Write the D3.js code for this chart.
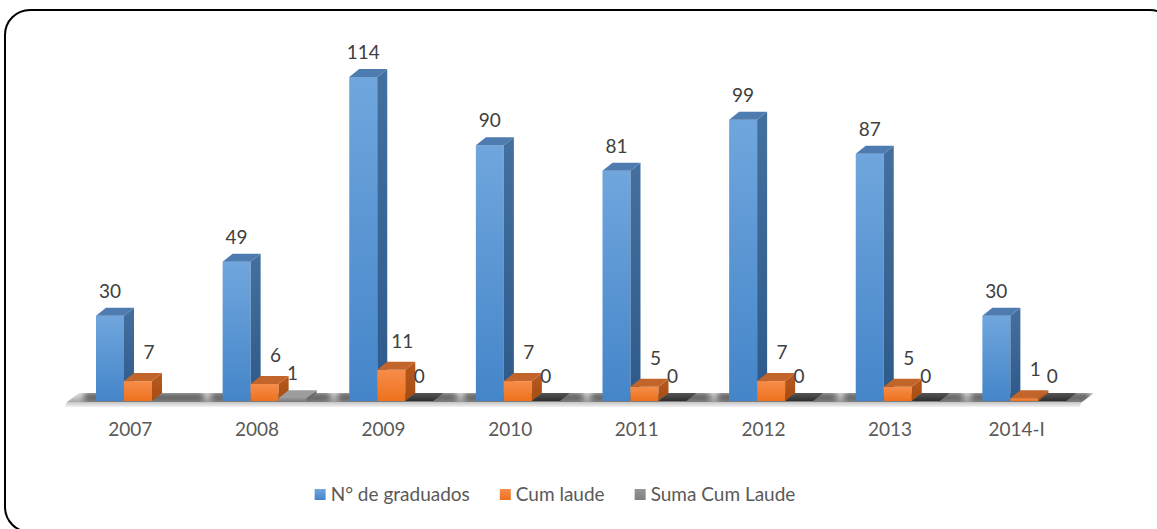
<!DOCTYPE html>
<html>
<head>
<meta charset="utf-8">
<script src="https://cdn.jsdelivr.net/npm/d3@7"></script>
<style>
  body { margin: 0; background: #fff; }
  text { font-family: Lato, "Open Sans", sans-serif; }
</style>
</head>
<body>
<div id="chart"></div>
<script>
// chart data (null = no bar drawn)
var categories = ["2007", "2008", "2009", "2010", "2011", "2012", "2013", "2014-I"];
var seriesNames = ["N° de graduados", "Cum laude", "Suma Cum Laude"];
var graduados = [30, 49, 114, 90, 81, 99, 87, 30];
var cumLaude = [7, 6, 11, 7, 5, 7, 5, 1];
var sumaCumLaude = [null, 1, 0, 0, 0, 0, 0, 0];

//svg sizes
var svgWidth = 1157;
var svgHeight = 529;

//3d depth offsets
var dx = 10;
var dy = 8;

var svg = d3.select("#chart")
  .append("svg")
  .attr("width", svgWidth)
  .attr("height", svgHeight);

var defs = svg.append("defs");

// helper for vertical gradients
function vGrad(id, top, bottom) {
  var g = defs.append("linearGradient")
    .attr("id", id)
    .attr("x1", 0).attr("y1", 0)
    .attr("x2", 0).attr("y2", 1);
  g.append("stop").attr("offset", "0%").attr("stop-color", top);
  g.append("stop").attr("offset", "100%").attr("stop-color", bottom);
}

// colors per series: front, side, top
var styles = [
  { front: "blueFront", side: "blueSide", top: "#4e7cb1" },
  { front: "orangeFront", side: "orangeSide", top: "#c2652b" },
  { front: "grayFront", side: "graySide", top: "#9d9d9d" }
];
vGrad("blueFront", "#70a6dd", "#4485c9");
vGrad("blueSide", "#44709f", "#2d5a8a");
vGrad("orangeFront", "#f68d4a", "#ee711d");
vGrad("orangeSide", "#b85a1e", "#a64c12");
vGrad("grayFront", "#959595", "#818181");
vGrad("graySide", "#737373", "#666666");
vGrad("floorTop", "#e6e6e6", "#a8a8a8");
vGrad("floorEdge", "#c4c4c4", "#f2f2f2");
vGrad("zeroSlab", "#555555", "#2e2e2e");

defs.append("filter")
  .attr("id", "blur")
  .attr("x", "-20%").attr("y", "-50%")
  .attr("width", "140%").attr("height", "200%")
  .append("feGaussianBlur")
  .attr("stdDeviation", 3);

// rounded frame
svg.append("rect")
  .attr("x", 5)
  .attr("y", 10)
  .attr("width", 1170)
  .attr("height", 522)
  .attr("rx", 25)
  .attr("fill", "none")
  .attr("stroke", "#000")
  .attr("stroke-width", 2);

// scales
var x0 = d3.scaleBand()
  .domain(categories)
  .range([67, 1080]);

var x1 = d3.scaleBand()
  .domain(seriesNames)
  .range([29, 113]);

var y = d3.scaleLinear()
  .domain([0, 114])
  .range([401, 77]);

var base = y(0);

// floor
var floorX0 = x0.range()[0];
var floorX1 = x0.range()[1] + 2;
var floorPts = [[floorX0, base + 1], [floorX1, base + 1], [floorX1 + 12, base - 8], [floorX0 + 12, base - 8]];

defs.append("clipPath")
  .attr("id", "floorClip")
  .append("polygon")
  .attr("points", floorPts.join(" "));

svg.append("polygon")
  .attr("points", floorPts.join(" "))
  .attr("fill", "url(#floorTop)");

// shadows under each group on the floor
svg.append("g")
  .attr("clip-path", "url(#floorClip)")
  .selectAll("rect")
  .data(categories)
  .enter()
  .append("rect")
  .attr("x", d => x0(d) + x1.range()[0] - 12)
  .attr("y", base - 9)
  .attr("width", x1.range()[1] - x1.range()[0] + dx + 26)
  .attr("height", 10)
  .attr("fill", "#3c3c3c")
  .attr("opacity", 0.75)
  .attr("filter", "url(#blur)");

svg.append("polygon")
  .attr("points", [[floorX0, base + 1], [floorX1, base + 1], [floorX1 - 3, base + 6], [floorX0 - 2, base + 6]].join(" "))
  .attr("fill", "url(#floorEdge)");

// build bar records
var series = [graduados, cumLaude, sumaCumLaude];
var bars = [];
categories.forEach(function(cat, i) {
  series.forEach(function(vals, s) {
    if (vals[i] !== null) bars.push({ cat: cat, s: s, value: vals[i] });
  });
});

var barsGroup = svg.append("g");
var w = x1.bandwidth();

bars.forEach(function(d) {
  var x = x0(d.cat) + x1(seriesNames[d.s]);
  var top = y(d.value);
  var st = styles[d.s];
  var g = barsGroup.append("g");

  if (d.value === 0) {
    // flat slab for zero values
    g.append("polygon")
      .attr("points", [[x, base], [x + w, base], [x + w + dx, base - dy], [x + dx, base - dy]].join(" "))
      .attr("fill", "url(#zeroSlab)");
    return;
  }

  // front face
  g.append("rect")
    .attr("x", x)
    .attr("y", top)
    .attr("width", w)
    .attr("height", base - top)
    .attr("fill", "url(#" + st.front + ")");

  // side face
  g.append("polygon")
    .attr("points", [[x + w, top], [x + w + dx, top - dy], [x + w + dx, base - dy], [x + w, base]].join(" "))
    .attr("fill", "url(#" + st.side + ")");

  // top face
  g.append("polygon")
    .attr("points", [[x, top], [x + dx, top - dy], [x + w + dx, top - dy], [x + w, top]].join(" "))
    .attr("fill", st.top);
});

// value labels
var labelShift = [{ x: 0, y: 18 }, { x: 11, y: 22 }, { x: 0, y: 18 }];
svg.append("g")
  .selectAll("text")
  .data(bars)
  .enter()
  .append("text")
  .attr("x", d => x0(d.cat) + x1(seriesNames[d.s]) + w / 2 + labelShift[d.s].x)
  .attr("y", d => y(d.value) - labelShift[d.s].y)
  .attr("text-anchor", "middle")
  .attr("font-size", "19px")
  .attr("fill", "#404040")
  .text(d => d.value);

// category axis
var bottomAxis = d3.axisBottom(x0)
  .tickSize(0)
  .tickPadding(22);

var xAxis = svg.append("g")
  .attr("transform", `translate(0, ${base})`)
  .call(bottomAxis);

xAxis.select(".domain").remove();
xAxis.selectAll("text")
  .attr("font-size", "19px")
  .attr("font-family", "Lato, 'Open Sans', sans-serif")
  .attr("fill", "#595959");

// legend
var legendColors = ["url(#blueFront)", "url(#orangeFront)", "url(#grayFront)"];
var legend = svg.append("g");
var lx = 0;
seriesNames.forEach(function(name, i) {
  var item = legend.append("g").attr("transform", `translate(${lx}, 0)`);
  item.append("rect")
    .attr("x", 0)
    .attr("y", -12)
    .attr("width", 11)
    .attr("height", 11)
    .attr("fill", legendColors[i]);
  var t = item.append("text")
    .attr("x", 16)
    .attr("y", 0)
    .attr("font-size", "19px")
    .attr("fill", "#595959")
    .text(name);
  lx += 16 + t.node().getComputedTextLength() + 30;
});
lx -= 30;
legend.attr("transform", `translate(${555 - lx / 2}, 501)`);
</script>
</body>
</html>
